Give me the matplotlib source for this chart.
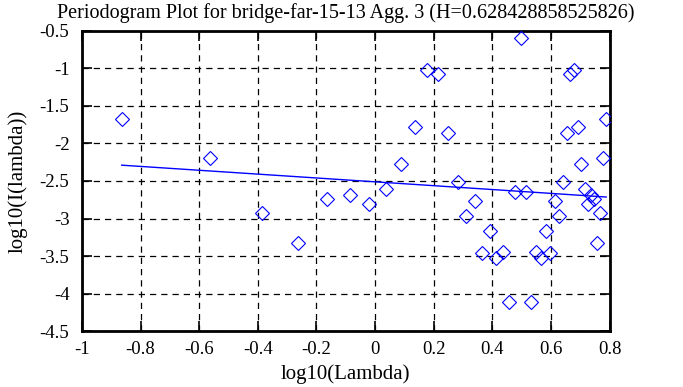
import matplotlib
matplotlib.use("Agg")
import matplotlib.pyplot as plt
import numpy as np

# log10(Lambda) values
log_lambda = [-0.8646, -0.5635, -0.3874, -0.2625, -0.1656, -0.0864, -0.0195, 0.0385,
              0.0896, 0.1354, 0.1768, 0.2147, 0.2493, 0.2815, 0.3115, 0.3396,
              0.3659, 0.3907, 0.4142, 0.4364, 0.4576, 0.4778, 0.4971, 0.5156,
              0.5334, 0.5504, 0.5668, 0.5826, 0.5978, 0.6125, 0.6268, 0.6405,
              0.6539, 0.6669, 0.6795, 0.6917, 0.7036, 0.7152, 0.7265, 0.7375,
              0.7482, 0.7587, 0.7689, 0.7789, 0.7886]
# log10(I(lambda)) values
log_I = [-1.67, -2.19, -2.92, -3.33, -2.745, -2.68, -2.805, -2.61,
         -2.273, -1.776, -1.02, -1.07, -1.864, -2.517, -2.962, -2.765,
         -3.455, -3.165, -3.531, -3.452, -4.11, -2.647, -0.598, -2.647,
         -4.11, -3.452, -3.531, -3.165, -3.455, -2.765, -2.962, -2.517,
         -1.864, -1.07, -1.02, -1.776, -2.273, -2.61, -2.805, -2.68,
         -2.745, -3.33, -2.92, -2.19, -1.67]
H = 0.628428858525826
fit_slope = 1 - 2 * H
fit_intercept = -2.511

title = "Periodogram Plot for bridge-far-15-13 Agg. 3 (H=0.628428858525826)"
xlabel = "log10(Lambda)"
ylabel = "log10(I(lambda))"
xticks = [-1, -0.8, -0.6, -0.4, -0.2, 0, 0.2, 0.4, 0.6, 0.8]
xticklabels = ["-1", "-0.8", "-0.6", "-0.4", "-0.2", "0", "0.2", "0.4", "0.6", "0.8"]
yticks = [-4.5, -4, -3.5, -3, -2.5, -2, -1.5, -1, -0.5]
yticklabels = ["-4.5", "-4", "-3.5", "-3", "-2.5", "-2", "-1.5", "-1", "-0.5"]

plt.rcParams['font.family'] = ['Liberation Serif', 'DejaVu Serif']

fig = plt.figure(figsize=(6.83, 3.87), dpi=100)
ax = fig.add_axes([0.120, 0.1447, 0.7724, 0.7752])

x = np.array(log_lambda)
y = np.array(log_I)
ax.plot(x, y, linestyle='none', marker='D', markersize=7, markerfacecolor='none',
        markeredgecolor='#0000ff', markeredgewidth=0.8, zorder=3)
xl = np.array([x.min(), x.max()])
ax.plot(xl, fit_intercept + fit_slope * xl, color='#0000ff', linewidth=1.0, zorder=3)

ax.set_xlim(-1, 0.8)
ax.set_ylim(-4.5, -0.5)
ax.set_xticks(xticks)
ax.set_xticklabels(xticklabels)
ax.set_yticks(yticks)
ax.set_yticklabels(yticklabels)
ax.tick_params(direction='in', length=7, width=1.2, top=True, right=True,
               labelsize=13.5, colors='black')
ax.tick_params(axis='y', pad=9)
ax.tick_params(axis='x', pad=7.5)
ax.grid(True, color='black', linestyle=(0, (5, 4)), linewidth=0.9)
for s in ax.spines.values():
    s.set_linewidth(2)
ax.set_title(title, fontsize=14.5, pad=9)
ax.set_xlabel(xlabel, fontsize=15, labelpad=4.5)
ax.set_ylabel(ylabel, fontsize=15, labelpad=9)

fig.savefig("out.png", dpi=100)
